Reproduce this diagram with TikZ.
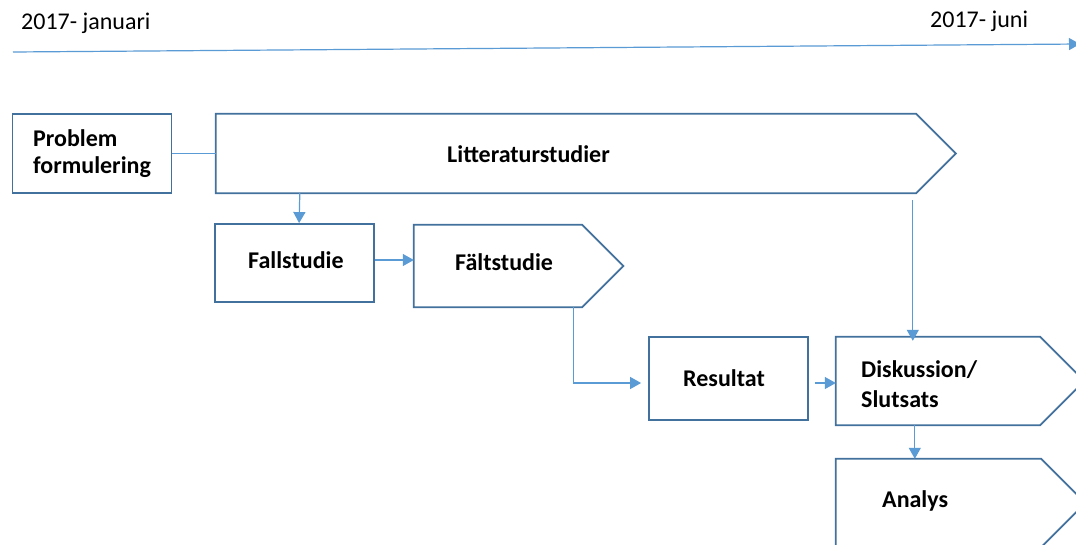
\documentclass[tikz,border=0pt]{standalone}
\usepackage{fontspec}
\setmainfont{Carlito}
\usetikzlibrary{arrows.meta,calc}
\definecolor{boxc}{HTML}{41719C}
\definecolor{linec}{HTML}{5B9BD5}
\tikzset{
  box/.style={draw=boxc,line width=1.8pt,inner sep=0pt,fill=white},
  chevbox/.style={inner sep=0pt},
  chevline/.style={draw=boxc,line width=1.8pt,line join=miter,fill=white},
  conn/.style={draw=linec,line width=1.2pt},
  arr/.style={conn,-{Triangle[length=11pt,width=12pt]}},
  lbl/.style={anchor=base west,inner sep=0pt,font=\fontsize{24}{29}\selectfont\bfseries},
  plain/.style={anchor=base west,inner sep=0pt,font=\fontsize{24}{29}\selectfont},
}
\newcommand\chevdraw[1]{%
  \path[chevline] let \p1=(#1.north east), \p2=(#1.south east) in
    (#1.north west) -- (\p1) -- ({\x1+0.5*\y1-0.5*\y2},{0.5*\y1+0.5*\y2}) -- (\p2) -- (#1.south west) -- cycle;}
\begin{document}
\begin{tikzpicture}[x=1pt,y=-1pt]
\clip (0,0) rectangle (1076,544);
\fill[white] (0,0) rectangle (1076,544);
% timeline
\coordinate (t0) at (13,52);
\coordinate (t1) at (1080,44);
\draw[arr] (t0) -- (t1);
\node[plain] (tjan) at (21,29) {2017- januari};
\node[plain] (tjun) at (930,27) {2017- juni};
% boxes
\node[box,minimum width=159pt,minimum height=79pt] (prob) at (92,153.5) {};
\node[chevbox,minimum width=700pt,minimum height=79pt] (lit) at (566,153.5) {};
\chevdraw{lit}
\node[box,minimum width=159pt,minimum height=78pt] (fall) at (294.5,263) {};
\node[chevbox,minimum width=168pt,minimum height=82pt] (falt) at (498,266) {};
\chevdraw{falt}
\node[box,minimum width=159pt,minimum height=83pt] (res) at (728.5,378.5) {};
\node[chevbox,minimum width=204pt,minimum height=88pt] (disk) at (938,381) {};
\chevdraw{disk}
\node[chevbox,minimum width=205pt,minimum height=88pt] (ana) at (938.5,503) {};
\chevdraw{ana}
% labels
\node[lbl] (tprob1) at (33,146) {Problem};
\node[lbl] (tprob2) at (33,173) {formulering};
\node[lbl] (tlit) at (447,162) {Litteraturstudier};
\node[lbl] (tfall) at (248,268) {Fallstudie};
\node[lbl] (tfalt) at (455,270) {Fältstudie};
\node[lbl] (tres) at (683,386) {Resultat};
\node[lbl] (tdisk1) at (861,377) {Diskussion/};
\node[lbl] (tdisk2) at (861,407) {Slutsats};
\node[lbl] (tana) at (882,507) {Analys};
% connectors
\draw[conn] (prob.east) -- (lit.west);
\draw[arr] ([xshift=84pt]lit.south west) -- ([xshift=85pt]fall.north west);
\draw[arr] ([yshift=3pt]fall.east) -- ([yshift=6pt]falt.west);
\draw[arr] ([xshift=160pt]falt.south west) |- ([xshift=-7pt,yshift=-4.5pt]res.west);
\draw[arr] ([xshift=6pt,yshift=-4.5pt]res.east) -- ([yshift=-2pt]disk.west);
\draw[arr] ([xshift=697pt,yshift=-7pt]lit.south west) -- ([xshift=77pt,yshift=-4pt]disk.north west);
\draw[arr] ([xshift=79pt]disk.south west) -- ([xshift=79pt]ana.north west);
\end{tikzpicture}
\end{document}
